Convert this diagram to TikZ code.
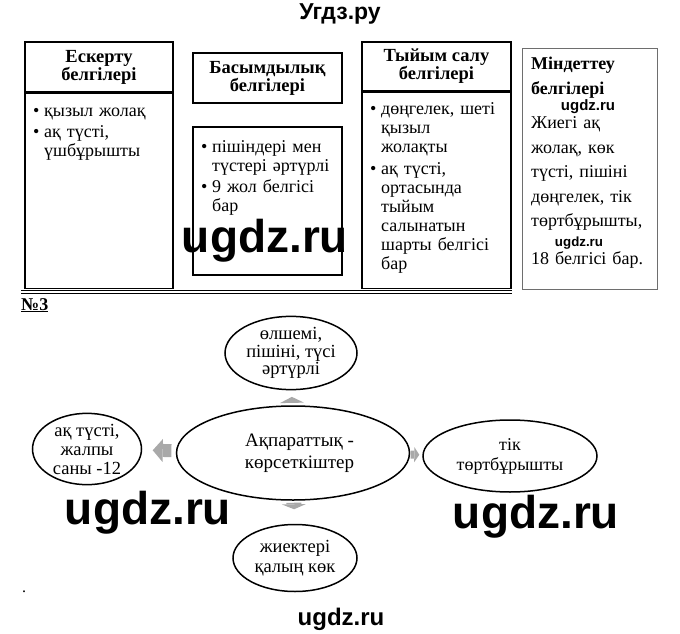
\documentclass[tikz,border=0pt]{standalone}
\usepackage{fontspec}
\setmainfont{Liberation Serif}
\newfontfamily\wmfont{Liberation Sans}
\usetikzlibrary{shapes.geometric,arrows.meta}
\definecolor{arrgray}{HTML}{A9A9A9}
\definecolor{boxgray}{HTML}{6E6E6E}
\newcommand{\itm}{\makebox[11pt][l]{\textbullet}}
\newcommand{\ind}{\hspace*{11pt}}

\begin{document}
\begin{tikzpicture}[
    x=1pt,y=-1pt,
    hdr/.style={draw,line width=1.6pt,minimum width=148pt,minimum height=50pt,inner sep=0pt,
      align=center,font=\fontsize{18.5}{18}\selectfont\bfseries},
    bdy/.style={draw,line width=1.6pt,minimum width=148pt,inner sep=0pt},
    txt/.style={anchor=base west,inner sep=0pt,text width=138pt,align=left,
      font=\fontsize{18}{19}\selectfont},
    oval/.style={draw,ellipse,line width=1.5pt,inner sep=0pt,align=center,
      font=\fontsize{18.5}{19}\selectfont},
    garrow/.style={arrgray,shorten <=#1},
    wm/.style={anchor=base,inner sep=0pt,font=\wmfont\bfseries\fontsize{#1}{#1}\selectfont}
    ]
    \useasboundingbox (0,0) rectangle (680,634);
    \node[wm=23] (title) at (340,20) {Угдз.ру};

    % top row of boxes
    \node[hdr] (eskH) at (99,67) {Ескерту\\белгілері};
    \node[bdy,minimum height=195pt,anchor=north] (eskB) at (eskH.south) {};
    \node[txt] (eskT) at (33,116) {\itm қызыл жолақ\\[2pt]
      \itm ақ түсті,\\ \ind үшбұрышты};

    \node[hdr,minimum width=149pt] (basH) at (267.5,78) {Басымдылық\\белгілері};
    \node[bdy,minimum width=149pt,minimum height=148pt] (basB) at (267.5,201) {};
    \node[txt] (basT) at (201,152) {\itm пішіндері мен\\ \ind түстері әртүрлі\\[2pt]
      \itm 9 жол белгісі\\ \ind бар};

    \node[hdr,minimum width=149pt,minimum height=49pt] (tyiH) at (436.5,66.5) {Тыйым салу\\белгілері};
    \node[bdy,minimum width=149pt,minimum height=196pt,anchor=north] (tyiB) at (tyiH.south) {};
    \node[txt] (tyiT) at (370,114) {\itm дөңгелек, шеті\\ \ind қызыл\\ \ind жолақты\\[3pt]
      \itm ақ түсті,\\ \ind ортасында\\ \ind тыйым\\ \ind салынатын\\ \ind шарты белгісі\\ \ind бар};

    \node[draw=boxgray,line width=0.8pt,minimum width=135pt,minimum height=241pt,inner sep=0pt]
      (minB) at (589.5,168.5) {};
    \node[txt,text width=124pt,font=\fontsize{18}{24.5}\selectfont] (minT) at (531,70)
      {\textbf{Міндеттеу}\\ \textbf{белгілері}\\[10pt] Жиегі ақ\\ жолақ, көк\\ түсті, пішіні\\
       дөңгелек, тік\\ төртбұрышты,\\[13.5pt] 18 белгісі бар.};

    \draw[line width=1.6pt] (21,290.5) -- (512,290.5);
    \draw[line width=0.6pt] (21,293.5) -- (512,293.5);

    \node[anchor=base west,inner sep=0pt,font=\fontsize{18}{18}\selectfont\bfseries] (num) at (21,310) {\underline{№3}};

    % ovals
    \node[oval,minimum width=132pt,minimum height=67pt,font=\fontsize{18.5}{17.8}\selectfont] (top) at (291,353)
      {өлшемі,\\пішіні, түсі\\әртүрлі};
    \node[oval,minimum width=233pt,minimum height=94pt,font=\fontsize{19}{21.5}\selectfont] (main) at (293,453)
      {\hspace*{13pt}Ақпараттық -\\\hspace*{13pt}көрсеткіштер};
    \node[oval,minimum width=109pt,minimum height=68pt] (left) at (87,449) {ақ түсті,\\жалпы\\саны -12};
    \node[oval,minimum width=174pt,minimum height=72pt,font=\fontsize{18}{20}\selectfont] (right) at (510,456)
      {тік\\төртбұрышты};
    \node[oval,minimum width=124pt,minimum height=67pt,font=\fontsize{18.5}{20}\selectfont] (bot) at (295,558)
      {жиектері\\қалың көк};

    \draw[garrow=3.5pt,line width=15pt,shorten >=6.5pt,
      -{Triangle[length=6pt,width=24pt,line width=0pt]}] (main) -- (top);
    \draw[garrow=4.5pt,line width=13pt,shorten >=10.5pt,
      -{Triangle[length=10pt,width=23pt,line width=0pt]}] (main) -- (left);
    \draw[garrow=0.5pt,line width=8pt,shorten >=3pt,
      -{Triangle[length=5pt,width=15pt,line width=0pt]}] (main) -- (right);
    \draw[garrow=2pt,line width=15pt,shorten >=14.5pt,
      -{Triangle[length=5pt,width=24pt,line width=0pt]}] (main) -- (bot);

    \node[anchor=base,inner sep=0pt,font=\fontsize{16}{16}\selectfont] (dot) at (24,592) {.};

    % watermarks
    \node[wm=46] (wmA) at (265,252) {ugdz.ru};
    \node[wm=46] (wmB) at (148,524) {ugdz.ru};
    \node[wm=46] (wmC) at (536,528) {ugdz.ru};
    \node[wm=15] (wmD) at (588,110.5) {ugdz.ru};
    \node[wm=13.3] (wmE) at (579,246) {ugdz.ru};
    \node[wm=24] (wmF) at (341,625) {ugdz.ru};
  \end{tikzpicture}
\end{document}
